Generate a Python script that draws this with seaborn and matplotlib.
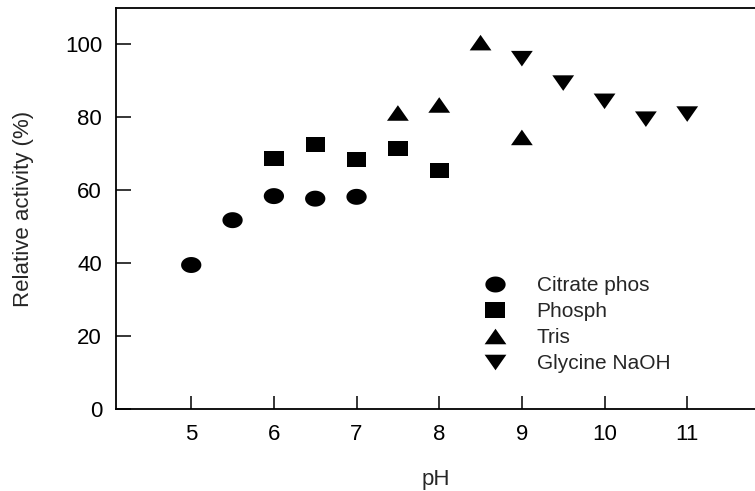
import numpy as np
import pandas as pd
import matplotlib
matplotlib.use("Agg")
import matplotlib.pyplot as plt
from matplotlib.path import Path
import seaborn as sns

# Relative enzyme activity in four buffer systems across pH
citrate_ph = [5.0, 5.5, 6.0, 6.5, 7.0]
citrate_act = [39.5, 51.8, 58.4, 57.7, 58.2]
phosph_ph = [6.0, 6.5, 7.0, 7.5, 8.0]
phosph_act = [68.7, 72.6, 68.4, 71.4, 65.5]
tris_ph = [7.5, 8.0, 8.5, 9.0]
tris_act = [81.2, 83.4, 100.5, 74.5]
glycine_ph = [9.0, 9.5, 10.0, 10.5, 11.0]
glycine_act = [96.1, 89.4, 84.4, 79.5, 80.9]
buffer_names = ["Citrate phos", "Phosph", "Tris", "Glycine NaOH"]
x_ticks = [5, 6, 7, 8, 9, 10, 11]
y_ticks = [0, 20, 40, 60, 80, 100]

df = pd.DataFrame({
    "pH": citrate_ph + phosph_ph + tris_ph + glycine_ph,
    "activity": citrate_act + phosph_act + tris_act + glycine_act,
    "buffer": ([buffer_names[0]] * len(citrate_ph) + [buffer_names[1]] * len(phosph_ph)
               + [buffer_names[2]] * len(tris_ph) + [buffer_names[3]] * len(glycine_ph)),
})


# Slightly widened marker shapes
def ellipse(aspect, n=72):
    t = np.linspace(0, 2 * np.pi, n, endpoint=False)
    v = np.column_stack([aspect * np.cos(t), np.sin(t)])
    return Path(np.vstack([v, v[:1]]), closed=True)


def polygon(points):
    v = np.array(points + [points[0]], dtype=float)
    return Path(v, closed=True)


marker_map = {
    "Citrate phos": ellipse(1.27),
    "Phosph": polygon([(-0.635, -0.5), (0.635, -0.5), (0.635, 0.5), (-0.635, 0.5)]),
    "Tris": polygon([(-0.7, -0.5), (0.7, -0.5), (0.0, 0.5)]),
    "Glycine NaOH": polygon([(-0.7, 0.5), (0.7, 0.5), (0.0, -0.5)]),
}
size_map = {"Citrate phos": 213, "Phosph": 193, "Tris": 246, "Glycine NaOH": 246}

sns.set_style("ticks")
plt.rcParams["font.family"] = ["Liberation Sans", "DejaVu Sans"]

W, H = 755, 491
fig = plt.figure(figsize=(W / 100, H / 100), dpi=100)
ax = fig.add_axes([116 / W, (H - 409) / H, (W - 116) / W, (409 - 8) / H])

sns.scatterplot(
    data=df, x="pH", y="activity",
    hue="buffer", style="buffer", size="buffer",
    hue_order=buffer_names, style_order=buffer_names, size_order=buffer_names,
    palette=["black"] * 4, markers=marker_map, sizes=size_map,
    linewidth=0, alpha=1, legend="full", ax=ax,
)

ax.set_xlim(4.09, 11.82)
ax.set_ylim(0, 110)
ax.set_xticks(x_ticks)
ax.set_yticks(y_ticks)
ax.tick_params(axis="x", direction="in", length=9.5, width=1.1, pad=10.5,
               labelsize=16, colors="black")
ax.tick_params(axis="y", direction="in", length=10.5, width=1.1, pad=10,
               labelsize=16, colors="black")
for side in ["left", "bottom", "top"]:
    ax.spines[side].set_linewidth(1.3)
    ax.spines[side].set_color("black")
ax.spines["right"].set_visible(False)

ax.set_xlabel("pH", fontsize=16, labelpad=17.5)
ax.set_ylabel("Relative activity (%)", fontsize=16, labelpad=22)

sns.move_legend(
    ax, "upper left",
    bbox_to_anchor=(479 / W, 1 - 276 / H), bbox_transform=fig.transFigure,
    frameon=False, title=None, fontsize=15,
    borderpad=0, borderaxespad=0, handlelength=1.5, handletextpad=1.27,
    labelspacing=0.34,
)

fig.savefig("out.png", dpi=100)
